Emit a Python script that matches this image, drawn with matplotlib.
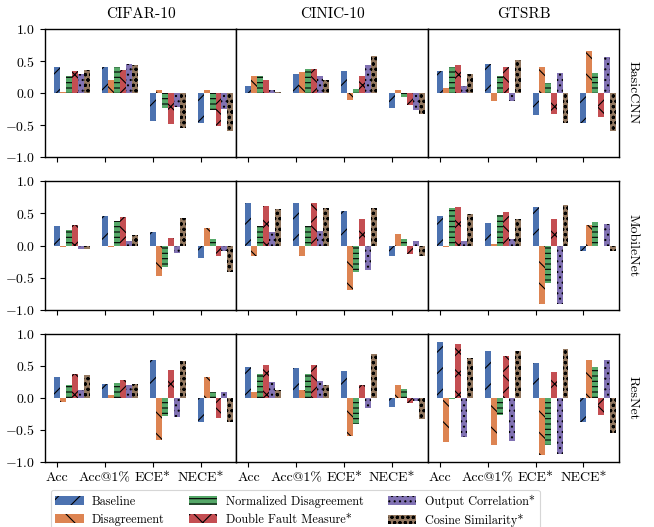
import matplotlib
matplotlib.use("Agg")
import matplotlib.pyplot as plt
from matplotlib.patches import Patch
import numpy as np

metrics = ["Acc", "Acc@1%", "ECE*", "NECE*"]
datasets = ["CIFAR-10", "CINIC-10", "GTSRB"]
models = ["BasicCNN", "MobileNet", "ResNet"]
series = ["Baseline", "Disagreement", "Normalized Disagreement",
          "Double Fault Measure*", "Output Correlation*", "Cosine Similarity*"]
colors = ["#4C72B0", "#DD8452", "#55A868", "#C44E52", "#8172B3", "#937860"]
hatches = ["/", "\\", "--", "x", "..", "oo"]

# rows: series (in order above), columns: metrics
basiccnn_cifar10 = [[0.41, 0.41, -0.43, -0.47],
                    [0.02, 0.21, 0.05, 0.04],
                    [0.27, 0.40, -0.23, -0.27],
                    [0.35, 0.36, -0.49, -0.52],
                    [0.30, 0.46, -0.22, -0.25],
                    [0.36, 0.43, -0.55, -0.60]]
basiccnn_cinic10 = [[0.11, 0.29, 0.35, -0.24],
                    [0.26, 0.33, -0.11, 0.05],
                    [0.26, 0.38, 0.07, -0.06],
                    [0.21, 0.38, 0.26, -0.18],
                    [0.05, 0.27, 0.44, -0.27],
                    [0.01, 0.21, 0.58, -0.33]]
basiccnn_gtsrb = [[0.35, 0.46, -0.35, -0.47],
                  [0.08, -0.125, 0.40, 0.65],
                  [0.41, 0.27, 0.15, 0.32],
                  [0.43, 0.41, -0.32, -0.38],
                  [0.11, -0.125, 0.32, 0.57],
                  [0.29, 0.51, -0.46, -0.60]]
mobilenet_cifar10 = [[0.31, 0.46, 0.21, -0.20],
                     [-0.03, -0.03, -0.48, 0.28],
                     [0.245, 0.385, -0.33, 0.10],
                     [0.32, 0.45, 0.12, -0.16],
                     [-0.05, 0.07, -0.11, -0.08],
                     [-0.05, 0.17, 0.43, -0.41]]
mobilenet_cinic10 = [[0.67, 0.67, 0.54, -0.16],
                     [-0.16, -0.17, -0.70, 0.18],
                     [0.31, 0.31, -0.41, 0.10],
                     [0.62, 0.67, 0.42, -0.14],
                     [0.21, 0.23, -0.39, 0.07],
                     [0.57, 0.59, 0.59, -0.17]]
mobilenet_gtsrb = [[0.46, 0.35, 0.60, -0.09],
                   [-0.03, 0.03, -0.92, 0.32],
                   [0.59, 0.48, -0.59, 0.37],
                   [0.60, 0.53, 0.42, -0.01],
                   [0.07, 0.10, -0.92, 0.34],
                   [0.49, 0.42, 0.64, -0.08]]
resnet_cifar10 = [[0.33, 0.22, 0.59, -0.37],
                  [-0.07, 0.05, -0.65, 0.33],
                  [0.20, 0.23, -0.28, 0.09],
                  [0.375, 0.28, 0.44, -0.31],
                  [0.125, 0.20, -0.29, 0.09],
                  [0.36, 0.22, 0.58, -0.37]]
resnet_cinic10 = [[0.48, 0.46, 0.42, -0.14],
                  [0.10, 0.12, -0.59, 0.21],
                  [0.37, 0.37, -0.41, 0.135],
                  [0.51, 0.51, 0.20, -0.08],
                  [0.245, 0.26, -0.16, -0.05],
                  [0.12, 0.20, 0.68, -0.33]]
resnet_gtsrb = [[0.87, 0.73, 0.54, -0.38],
                [-0.69, -0.73, -0.89, 0.60],
                [-0.02, -0.27, -0.73, 0.49],
                [0.84, 0.65, 0.40, -0.27],
                [-0.61, -0.67, -0.875, 0.60],
                [0.62, 0.74, 0.76, -0.54]]

panels = [[basiccnn_cifar10, basiccnn_cinic10, basiccnn_gtsrb],
          [mobilenet_cifar10, mobilenet_cinic10, mobilenet_gtsrb],
          [resnet_cifar10, resnet_cinic10, resnet_gtsrb]]

DPI = 64
S = 100.0 / DPI  # scale factor so point sizes look as at 100 dpi

plt.rcParams["font.family"] = ["cmr10", "DejaVu Serif"]
plt.rcParams["mathtext.fontset"] = "cm"
plt.rcParams["axes.formatter.use_mathtext"] = True
plt.rcParams["hatch.color"] = "black"
plt.rcParams["hatch.linewidth"] = 0.8 * S

fig, axes = plt.subplots(3, 3, figsize=(654 / DPI, 527 / DPI), dpi=DPI, sharex=True, sharey=True,
                         gridspec_kw=dict(wspace=0, hspace=0.19))
fig.subplots_adjust(left=0.0688, right=0.947, top=0.945, bottom=0.1233)

x = np.arange(len(metrics))
w = 0.125
for r in range(3):
    for c in range(3):
        ax = axes[r, c]
        data = panels[r][c]
        for i in range(len(series)):
            ax.bar(x + i * w, data[i], width=w, color=colors[i], hatch=hatches[i], linewidth=0)
        ax.set_xlim(-0.25, 3.75)
        ax.set_ylim(-1.0, 1.0)
        ax.set_xticks(x)
        ax.set_xticklabels(metrics)
        ax.set_yticks([-1.0, -0.5, 0.0, 0.5, 1.0])
        ax.tick_params(axis="both", labelsize=10 * S, length=3.5 * S, width=0.8 * S, pad=3.5 * S)
        for s in ax.spines.values():
            s.set_linewidth(1.0 * S)
        if c != 0:
            ax.tick_params(axis="y", left=False, labelleft=False)
        if r == 0:
            ax.set_title(datasets[c], fontsize=11 * S, pad=8 * S)
        if c == 2:
            ax.yaxis.set_label_position("right")
            ax.set_ylabel(models[r], rotation=270, labelpad=14 * S, fontsize=10 * S)

handles = [Patch(facecolor=colors[i], hatch=hatches[i], linewidth=0, label=series[i])
           for i in range(len(series))]
leg = fig.legend(handles=handles, loc="upper left", bbox_to_anchor=(0.068, 0.082), ncol=3,
                 fontsize=8.8 * S, handlelength=2.3, handleheight=0.75, handletextpad=0.7,
                 columnspacing=2.0, labelspacing=0.45, borderpad=0.4, frameon=True,
                 fancybox=True)
leg.get_frame().set_edgecolor("#cccccc")
leg.get_frame().set_linewidth(0.8 * S)

fig.savefig("out.png", dpi=DPI)
